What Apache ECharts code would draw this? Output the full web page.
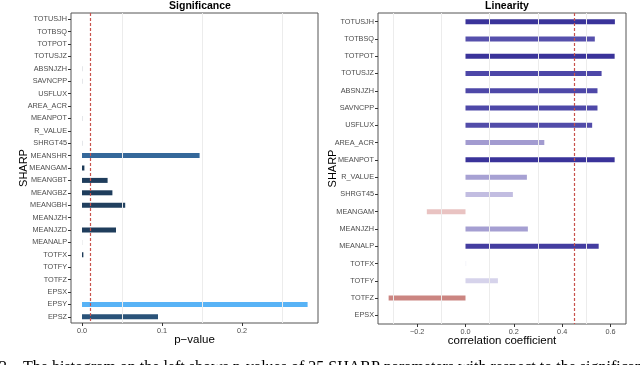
<!DOCTYPE html>
<html>
<head>
<meta charset="utf-8">
<script src="https://cdn.jsdelivr.net/npm/echarts@6/dist/echarts.min.js"></script>
<style>
  html, body { margin: 0; padding: 0; background: #fff; }
  #chart { width: 640px; height: 365px; }
</style>
</head>
<body>
<div id="chart"></div>
<script>
// SHARP parameters, top to bottom
var sigNames = ['TOTUSJH', 'TOTBSQ', 'TOTPOT', 'TOTUSJZ', 'ABSNJZH', 'SAVNCPP', 'USFLUX', 'AREA_ACR',
  'MEANPOT', 'R_VALUE', 'SHRGT45', 'MEANSHR', 'MEANGAM', 'MEANGBT', 'MEANGBZ', 'MEANGBH', 'MEANJZH',
  'MEANJZD', 'MEANALP', 'TOTFX', 'TOTFY', 'TOTFZ', 'EPSX', 'EPSY', 'EPSZ']
var pValues = [0, 0, 0, 0, 0.0008, 0.0008, 0, 0, 0.0008, 0, 0.0008, 0.147, 0.003, 0.032, 0.038, 0.054, 0,
  0.0425, 0.0008, 0.0017, 0, 0, 0, 0.282, 0.095]
var sigColors = ['#1f3d5c', '#1f3d5c', '#1f3d5c', '#1f3d5c', '#d6dade', '#d6dade', '#1f3d5c', '#1f3d5c',
  '#d6dade', '#1f3d5c', '#d6dade', '#35689a', '#1d3a58', '#1f3d5c', '#1f3d5c', '#21405f', '#1f3d5c',
  '#1f3d5c', '#e6e8ea', '#1d3a58', '#1f3d5c', '#1f3d5c', '#1f3d5c', '#58b3f6', '#2a5379']
var pThreshold = 0.01
var pTicks = [0, 0.1, 0.2]
var pGrid = [0.05, 0.15, 0.25]

var linNames = ['TOTUSJH', 'TOTBSQ', 'TOTPOT', 'TOTUSJZ', 'ABSNJZH', 'SAVNCPP', 'USFLUX', 'AREA_ACR',
  'MEANPOT', 'R_VALUE', 'SHRGT45', 'MEANGAM', 'MEANJZH', 'MEANALP', 'TOTFX', 'TOTFY', 'TOTFZ', 'EPSX']
var corrValues = [0.618, 0.535, 0.617, 0.563, 0.546, 0.546, 0.524, 0.326, 0.617, 0.254, 0.196, -0.160,
  0.258, 0.551, 0.003, 0.134, -0.318, 0]
var linColors = ['#3a339a', '#5650ac', '#3a339a', '#4d47a8', '#4e48a8', '#4e48a8', '#524ca9', '#a29bd0',
  '#3a339a', '#a7a1d3', '#c2bde1', '#e9c3c2', '#a59fd2', '#443da0', '#f2f1f8', '#d6d3eb', '#cb8581', '#ffffff']
var corrThreshold = 0.45
var corrTicks = [-0.2, 0, 0.2, 0.4, 0.6]
var corrGrid = [-0.3, -0.1, 0.1, 0.3, 0.5]

var chart = echarts.init(document.getElementById('chart'))
var font = 'Liberation Sans, Arial, sans-serif'

function barData(vals, cols) {
  return vals.map(function (v, i) {
    return { value: v, itemStyle: { color: cols[i] } }
  })
}
function xLines(vals) {
  return vals.map(function (v) { return { xAxis: v } })
}
function fmt(v) {
  return v === 0 ? '0.0' : (v < 0 ? '\u2212' : '') + Math.abs(v).toFixed(1)
}

function xAxisFor(idx, min, max, ticks, name) {
  return {
    gridIndex: idx, type: 'value', min: min, max: max,
    name: name, nameLocation: 'middle', nameGap: 11, nameMoveOverlap: false,
    nameTextStyle: { fontFamily: font, fontSize: 11.5, color: '#000', verticalAlign: 'top' },
    axisLine: { show: false, onZero: false },
    axisTick: { show: true, customValues: ticks, length: 3, lineStyle: { color: '#333' } },
    axisLabel: { customValues: ticks, formatter: fmt, fontFamily: font, fontSize: 7.3, color: '#4d4d4d', margin: 4 },
    splitLine: { show: false }
  }
}
function yAxisFor(idx, names) {
  return {
    gridIndex: idx, type: 'category', data: names, inverse: true,
    name: 'SHARP', nameLocation: 'middle', nameGap: idx === 0 ? 42 : 40, nameRotate: 90, nameMoveOverlap: false,
    nameTextStyle: { fontFamily: font, fontSize: 11, color: '#000' },
    axisLine: { show: false, onZero: false },
    axisTick: { show: true, alignWithLabel: true, length: 3, lineStyle: { color: '#333' } },
    axisLabel: { fontFamily: font, fontSize: 7.3, color: '#4d4d4d', margin: 4, interval: 0 },
    splitLine: { show: false }
  }
}

var option = {
  backgroundColor: '#fff',
  animation: false,
  title: [
    { text: 'Significance', left: 195, top: -4, textAlign: 'center',
      textStyle: { fontFamily: font, fontSize: 10.5, fontWeight: 'bold', color: '#000' } },
    { text: 'Linearity', left: 502, top: -4, textAlign: 'center',
      textStyle: { fontFamily: font, fontSize: 10.5, fontWeight: 'bold', color: '#000' } }
  ],
  grid: [
    { left: 71, top: 13, width: 247, height: 310, show: true, borderColor: '#555', borderWidth: 1, backgroundColor: '#fff' },
    { left: 378, top: 13, width: 248, height: 311, show: true, borderColor: '#555', borderWidth: 1, backgroundColor: '#fff' }
  ],
  xAxis: [
    xAxisFor(0, -0.01375, 0.295, pTicks, 'p\u2212value'),
    xAxisFor(1, -0.362, 0.664, corrTicks, 'correlation coefficient')
  ],
  yAxis: [yAxisFor(0, sigNames), yAxisFor(1, linNames)],
  series: [
    { type: 'line', xAxisIndex: 0, yAxisIndex: 0, data: [], z: 1, silent: true,
      markLine: { symbol: 'none', silent: true, label: { show: false },
        lineStyle: { color: '#ececec', width: 1, type: 'solid' }, data: xLines(pGrid) } },
    { type: 'bar', xAxisIndex: 0, yAxisIndex: 0, barWidth: 5, z: 2, data: barData(pValues, sigColors) },
    { type: 'line', xAxisIndex: 0, yAxisIndex: 0, data: [], z: 5, silent: true,
      markLine: { symbol: 'none', silent: true, label: { show: false },
        lineStyle: { color: '#c8524c', width: 1.2, type: [3, 2] }, data: [{ xAxis: pThreshold }] } },

    { type: 'line', xAxisIndex: 1, yAxisIndex: 1, data: [], z: 1, silent: true,
      markLine: { symbol: 'none', silent: true, label: { show: false },
        lineStyle: { color: '#ececec', width: 1, type: 'solid' }, data: xLines(corrGrid) } },
    { type: 'bar', xAxisIndex: 1, yAxisIndex: 1, barWidth: 5, z: 2, data: barData(corrValues, linColors) },
    { type: 'line', xAxisIndex: 1, yAxisIndex: 1, data: [], z: 5, silent: true,
      markLine: { symbol: 'none', silent: true, label: { show: false },
        lineStyle: { color: '#c8524c', width: 1.2, type: [3, 2] }, data: [{ xAxis: corrThreshold }] } }
  ],
  graphic: [
    { type: 'text', left: -1, top: 360,
      style: { text: '2.   The histogram on the left shows p-values of 25 SHARP parameters with respect to the significance t',
        font: '16px "Liberation Serif", serif', fill: '#000' } }
  ]
}
chart.setOption(option)
</script>
</body>
</html>
